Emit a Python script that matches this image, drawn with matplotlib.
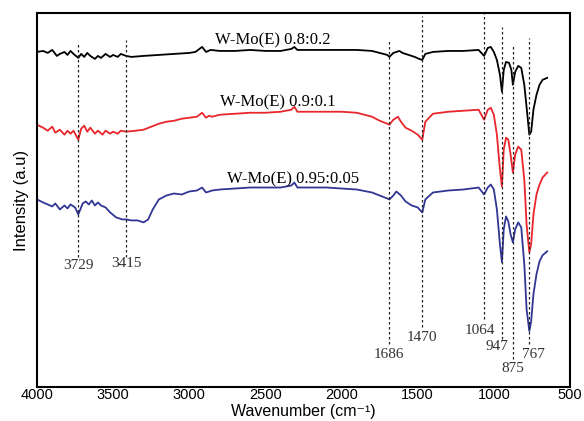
import numpy as np
import matplotlib
matplotlib.use("Agg")
import matplotlib.pyplot as plt

# FTIR spectra of W-Mo(E) samples (arbitrary intensity units)
wn_black = [4000, 3960, 3930, 3900, 3870, 3850, 3820, 3800, 3780, 3760, 3729, 3710, 3690,
            3670, 3650, 3620, 3600, 3580, 3550, 3520, 3500, 3470, 3450, 3415, 3380, 3300,
            3200, 3100, 3000, 2960, 2916, 2890, 2860, 2800, 2700, 2600, 2500, 2400, 2330,
            2310, 2290, 2200, 2100, 2000, 1900, 1800, 1750, 1700, 1686, 1660, 1620, 1600,
            1560, 1520, 1490, 1470, 1450, 1400, 1300, 1200, 1100, 1064, 1040, 1020, 1000,
            980, 960, 947, 935, 920, 900, 885, 875, 860, 840, 820, 800, 780, 767, 755, 740,
            720, 700, 680, 650]
black = [3.36, 3.37, 3.35, 3.38, 3.32, 3.34, 3.36, 3.33, 3.37, 3.34, 3.30, 3.34, 3.31,
         3.35, 3.32, 3.29, 3.32, 3.30, 3.34, 3.31, 3.33, 3.31, 3.34, 3.32, 3.31, 3.32,
         3.33, 3.34, 3.35, 3.36, 3.41, 3.36, 3.38, 3.37, 3.37, 3.38, 3.37, 3.37, 3.39,
         3.41, 3.38, 3.38, 3.38, 3.38, 3.38, 3.37, 3.35, 3.33, 3.31, 3.35, 3.37, 3.35,
         3.33, 3.31, 3.29, 3.28, 3.34, 3.36, 3.37, 3.37, 3.38, 3.32, 3.40, 3.41, 3.36,
         3.28, 3.13, 2.96, 3.18, 3.26, 3.25, 3.18, 3.03, 3.16, 3.22, 3.20, 3.03, 2.73,
         2.53, 2.56, 2.78, 2.93, 3.03, 3.08, 3.10]

wn_red = [4000, 3960, 3930, 3900, 3880, 3850, 3820, 3800, 3780, 3760, 3740, 3729, 3710,
          3690, 3670, 3650, 3620, 3600, 3570, 3550, 3520, 3500, 3470, 3450, 3415, 3350,
          3300, 3250, 3200, 3150, 3100, 3050, 3000, 2950, 2916, 2890, 2870, 2850, 2800,
          2700, 2600, 2500, 2400, 2330, 2310, 2290, 2200, 2100, 2000, 1900, 1800, 1750,
          1700, 1686, 1660, 1630, 1610, 1580, 1540, 1500, 1470, 1450, 1400, 1300, 1200,
          1100, 1064, 1040, 1020, 1000, 980, 960, 947, 935, 920, 905, 890, 875, 860, 840,
          820, 800, 785, 767, 755, 740, 720, 700, 680, 650]
red = [2.63, 2.60, 2.57, 2.61, 2.55, 2.58, 2.53, 2.57, 2.54, 2.57, 2.51, 2.48, 2.59,
       2.62, 2.56, 2.60, 2.54, 2.57, 2.53, 2.57, 2.54, 2.56, 2.54, 2.57, 2.56, 2.57,
       2.58, 2.61, 2.64, 2.66, 2.67, 2.69, 2.70, 2.71, 2.75, 2.70, 2.72, 2.71, 2.73,
       2.74, 2.75, 2.75, 2.76, 2.78, 2.81, 2.76, 2.76, 2.76, 2.76, 2.75, 2.71, 2.67,
       2.64, 2.63, 2.68, 2.71, 2.66, 2.60, 2.57, 2.53, 2.48, 2.66, 2.74, 2.76, 2.77,
       2.78, 2.68, 2.78, 2.80, 2.73, 2.53, 2.18, 2.01, 2.38, 2.50, 2.48, 2.33, 2.15,
       2.33, 2.41, 2.38, 2.08, 1.63, 1.35, 1.43, 1.73, 1.93, 2.03, 2.10, 2.15]

wn_blue = [4000, 3960, 3930, 3900, 3880, 3850, 3820, 3800, 3780, 3750, 3729, 3700, 3680,
           3660, 3640, 3620, 3600, 3580, 3550, 3520, 3480, 3440, 3415, 3380, 3340, 3300,
           3270, 3240, 3200, 3150, 3100, 3050, 3000, 2950, 2916, 2890, 2850, 2800, 2700,
           2600, 2500, 2400, 2330, 2310, 2290, 2200, 2100, 2000, 1900, 1800, 1750, 1700,
           1686, 1660, 1640, 1610, 1580, 1540, 1500, 1470, 1450, 1400, 1300, 1200, 1100,
           1064, 1040, 1020, 1000, 980, 960, 947, 935, 920, 905, 890, 875, 860, 840, 820,
           800, 785, 767, 755, 740, 720, 700, 680, 650]
blue = [1.88, 1.85, 1.83, 1.81, 1.84, 1.78, 1.82, 1.79, 1.83, 1.80, 1.73, 1.84, 1.86,
        1.83, 1.87, 1.82, 1.85, 1.82, 1.80, 1.75, 1.70, 1.68, 1.68, 1.67, 1.67, 1.65,
        1.68, 1.78, 1.88, 1.92, 1.94, 1.93, 1.96, 1.97, 2.00, 1.95, 1.97, 1.98, 1.99,
        2.00, 2.00, 2.00, 2.02, 2.05, 2.00, 2.00, 2.00, 1.99, 1.98, 1.95, 1.92, 1.89,
        1.88, 1.92, 1.96, 1.92, 1.86, 1.82, 1.80, 1.75, 1.88, 1.95, 1.97, 1.98, 2.00,
        1.93, 2.00, 2.03, 1.98, 1.78, 1.43, 1.25, 1.58, 1.71, 1.66, 1.53, 1.45, 1.58,
        1.65, 1.60, 1.23, 0.78, 0.56, 0.66, 0.93, 1.13, 1.26, 1.32, 1.36]

# marked bands
peaks = [3729, 3415, 1686, 1470, 1064, 947, 875, 767]
peak_labels = ["3729", "3415", "1686", "1470", "1064", "947", "875", "767"]

series_names = ["W-Mo(E) 0.8:0.2", "W-Mo(E) 0.9:0.1", "W-Mo(E) 0.95:0.05"]

# layout for the guide lines (top, bottom) and label offsets
line_top = [3.45, 3.48, 3.47, 3.72, 3.75, 3.61, 3.43, 3.50]
line_bot = [1.30, 1.30, 0.43, 0.60, 0.68, 0.48, 0.28, 0.43]
lab_y = [1.22, 1.24, 0.33, 0.50, 0.57, 0.41, 0.18, 0.33]
lab_dx = [0, 0, 0, 0, 25, 35, 0, -30]
name_x = [2831, 2798, 2752]
name_y = [3.48, 2.85, 2.08]

fig = plt.figure(figsize=(5.84, 4.21), dpi=100)
ax = fig.add_axes([0.0634, 0.081, 0.9126, 0.888])

ax.plot(wn_black, black, color="black", lw=1.3)
ax.plot(wn_red, red, color="#e8262b", lw=1.3)
ax.plot(wn_blue, blue, color="#313695", lw=1.3)

for p, t, b in zip(peaks, line_top, line_bot):
    ax.plot([p, p], [b, t], color="#222222", lw=0.9, linestyle=(0, (2, 2)))

serif = "Liberation Serif"
for p, lab, y, dx in zip(peaks, peak_labels, lab_y, lab_dx):
    ax.text(p + dx, y, lab, ha="center", va="center", fontsize=11,
            family=serif, color="#333333")

for name, x, y in zip(series_names, name_x, name_y):
    ax.text(x, y, name, ha="left", va="center", fontsize=12, family=serif)

ax.set_xlim(4000, 500)
ax.set_ylim(0, 3.75)
ax.set_xticks([4000, 3500, 3000, 2500, 2000, 1500, 1000, 500])
ax.set_yticks([])
ax.tick_params(axis="x", length=0, labelsize=10.5, pad=0.5)
for lbl in ax.get_xticklabels():
    lbl.set_family("Liberation Sans")
for s in ax.spines.values():
    s.set_linewidth(1.5)

fig.text(0.519, 0.004, "Wavenumber (cm\u207b\u00b9)", ha="center", va="bottom",
         fontsize=11.5, family=["Liberation Sans", "DejaVu Sans"])
ax.set_ylabel("Intensity (a.u)", fontsize=12, family="Liberation Sans", labelpad=6)

fig.savefig("out.png", dpi=100)
